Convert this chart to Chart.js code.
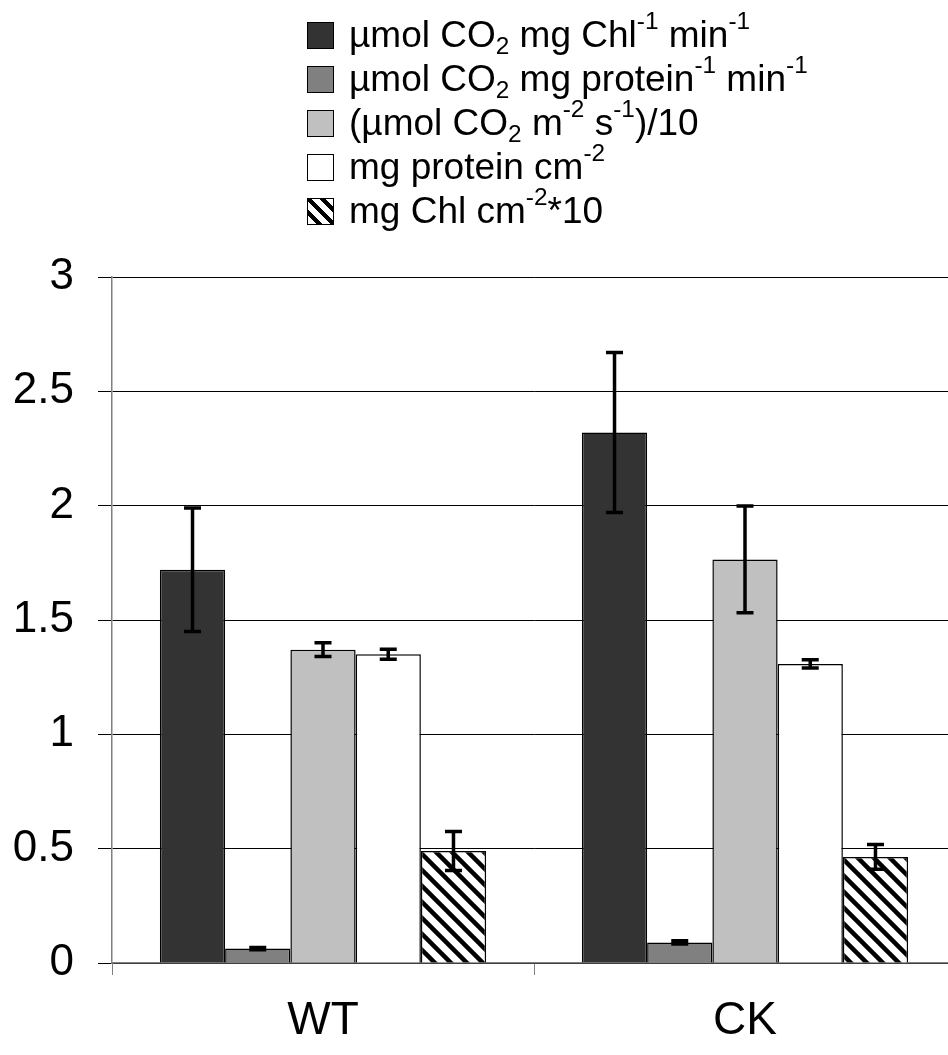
<html>
  <head>
    <script src="https://cdn.jsdelivr.net/npm/chart.js"></script>
    <meta charset="UTF-8" />
    <style>
      body { margin: 0; overflow: hidden; background: #fff; font-family: "Liberation Sans", Arial, sans-serif; }
      #wrap { position: absolute; left: 0; top: 0; width: 960px; height: 1055px; }
      #legend { position: absolute; left: 307px; top: 13px; font-size: 37px; line-height: 44px; color: #000; }
      .row { display: flex; align-items: center; height: 44px; white-space: nowrap; }
      .box { width: 25px; height: 25px; border: 1.5px solid #000; margin-right: 15px; box-sizing: content-box; flex: none; }
      .txt { display: inline-block; line-height: 44px; }
      sup, sub { font-size: 0.66em; line-height: 0; position: relative; vertical-align: baseline; }
      sup { top: -0.72em; }
      sub { top: 0.28em; }
    </style>
  </head>
  <body>
    <div id="wrap"><canvas id="myChart"></canvas></div>
    <div id="legend">
      <div class="row"><span class="box" style="background:#333333"></span><span class="txt">µmol CO<sub>2</sub> mg Chl<sup>-1</sup> min<sup>-1</sup></span></div>
      <div class="row"><span class="box" style="background:#808080"></span><span class="txt">µmol CO<sub>2</sub> mg protein<sup>-1</sup> min<sup>-1</sup></span></div>
      <div class="row"><span class="box" style="background:#c0c0c0"></span><span class="txt">(µmol CO<sub>2</sub> m<sup>-2</sup> s<sup>-1</sup>)/10</span></div>
      <div class="row"><span class="box" style="background:#ffffff"></span><span class="txt">mg protein cm<sup>-2</sup></span></div>
      <div class="row"><span class="box" style="background:repeating-linear-gradient(45deg,#fff 0px,#fff 6px,#000 6px,#000 10px)"></span><span class="txt">mg Chl cm<sup>-2</sup>*10</span></div>
    </div>
    <script>
      const categories = ["WT", "CK"];

      const chlRate = [1.72, 2.32];
      const chlRateErr = [0.27, 0.35];
      const proteinRate = [0.063, 0.09];
      const proteinRateErr = [0.005, 0.007];
      const areaRate = [1.37, 1.765];
      const areaRateErr = [0.03, 0.233];
      const proteinArea = [1.35, 1.308];
      const proteinAreaErr = [0.022, 0.018];
      const chlArea = [0.49, 0.464];
      const chlAreaErr = [0.085, 0.054];

      const yTicks = [0, 0.5, 1, 1.5, 2, 2.5, 3];

      // diagonal stripes for the last series
      const makeHatch = () => {
        const s = 16;
        const c = document.createElement("canvas");
        c.width = s;
        c.height = s;
        const g = c.getContext("2d");
        g.fillStyle = "#fff";
        g.fillRect(0, 0, s, s);
        g.strokeStyle = "#000";
        g.lineWidth = 4.5;
        [-s, 0, s].forEach(k => {
          g.beginPath();
          g.moveTo(-2, k - 2);
          g.lineTo(s + 2, k + s + 2);
          g.stroke();
        });
        return g.createPattern(c, "repeat");
      };

      const series = [
        { data: chlRate, err: chlRateErr, color: "#333333" },
        { data: proteinRate, err: proteinRateErr, color: "#808080" },
        { data: areaRate, err: areaRateErr, color: "#c0c0c0" },
        { data: proteinArea, err: proteinAreaErr, color: "#ffffff" },
        { data: chlArea, err: chlAreaErr, color: makeHatch() },
      ];

      const errorBars = {
        id: "errorBars",
        afterDatasetsDraw(chart) {
          const ctx = chart.ctx;
          const y = chart.scales.y;
          ctx.save();
          ctx.strokeStyle = "#000";
          ctx.lineWidth = 3.5;
          chart.data.datasets.forEach((ds, i) => {
            chart.getDatasetMeta(i).data.forEach((bar, j) => {
              const v = ds.data[j];
              const e = ds.errors[j];
              const top = y.getPixelForValue(v + e);
              const bot = y.getPixelForValue(v - e);
              ctx.beginPath();
              ctx.moveTo(bar.x, top);
              ctx.lineTo(bar.x, bot);
              ctx.moveTo(bar.x - 8.5, top);
              ctx.lineTo(bar.x + 8.5, top);
              ctx.moveTo(bar.x - 8.5, bot);
              ctx.lineTo(bar.x + 8.5, bot);
              ctx.stroke();
            });
          });
          ctx.restore();
        },
      };

      const font = { family: "'Liberation Sans', Arial, sans-serif", size: 44 };

      new Chart(document.getElementById("myChart"), {
        type: "bar",
        data: {
          labels: categories,
          datasets: series.map(s => ({
            data: s.data,
            errors: s.err,
            backgroundColor: s.color,
            borderColor: "#000",
            borderWidth: 1.5,
            barPercentage: 1,
            categoryPercentage: 0.773,
          })),
        },
        options: {
          responsive: true,
          maintainAspectRatio: false,
          animation: false,
          layout: { padding: { top: 277, right: 4, left: 0, bottom: 0 } },
          plugins: { legend: { display: false }, tooltip: { enabled: false } },
          scales: {
            x: {
              afterFit: s => { s.height = 92; },
              grid: {
                offset: true,
                drawOnChartArea: false,
                tickLength: 12,
                color: "#808080",
              },
              border: { color: "#808080", width: 1.5 },
              ticks: { color: "#000", font: { family: font.family, size: 46 }, padding: 19 },
            },
            y: {
              min: 0,
              max: 3,
              afterFit: s => { s.width = 112; },
              afterBuildTicks: s => { s.ticks = yTicks.map(v => ({ value: v })); },
              grid: { color: "#000", lineWidth: 1, tickLength: 14 },
              border: { color: "#808080", width: 1.5 },
              ticks: { color: "#000", font: font, padding: 24, callback: v => String(v) },
            },
          },
        },
        plugins: [errorBars],
      });
    </script>
  </body>
</html>
